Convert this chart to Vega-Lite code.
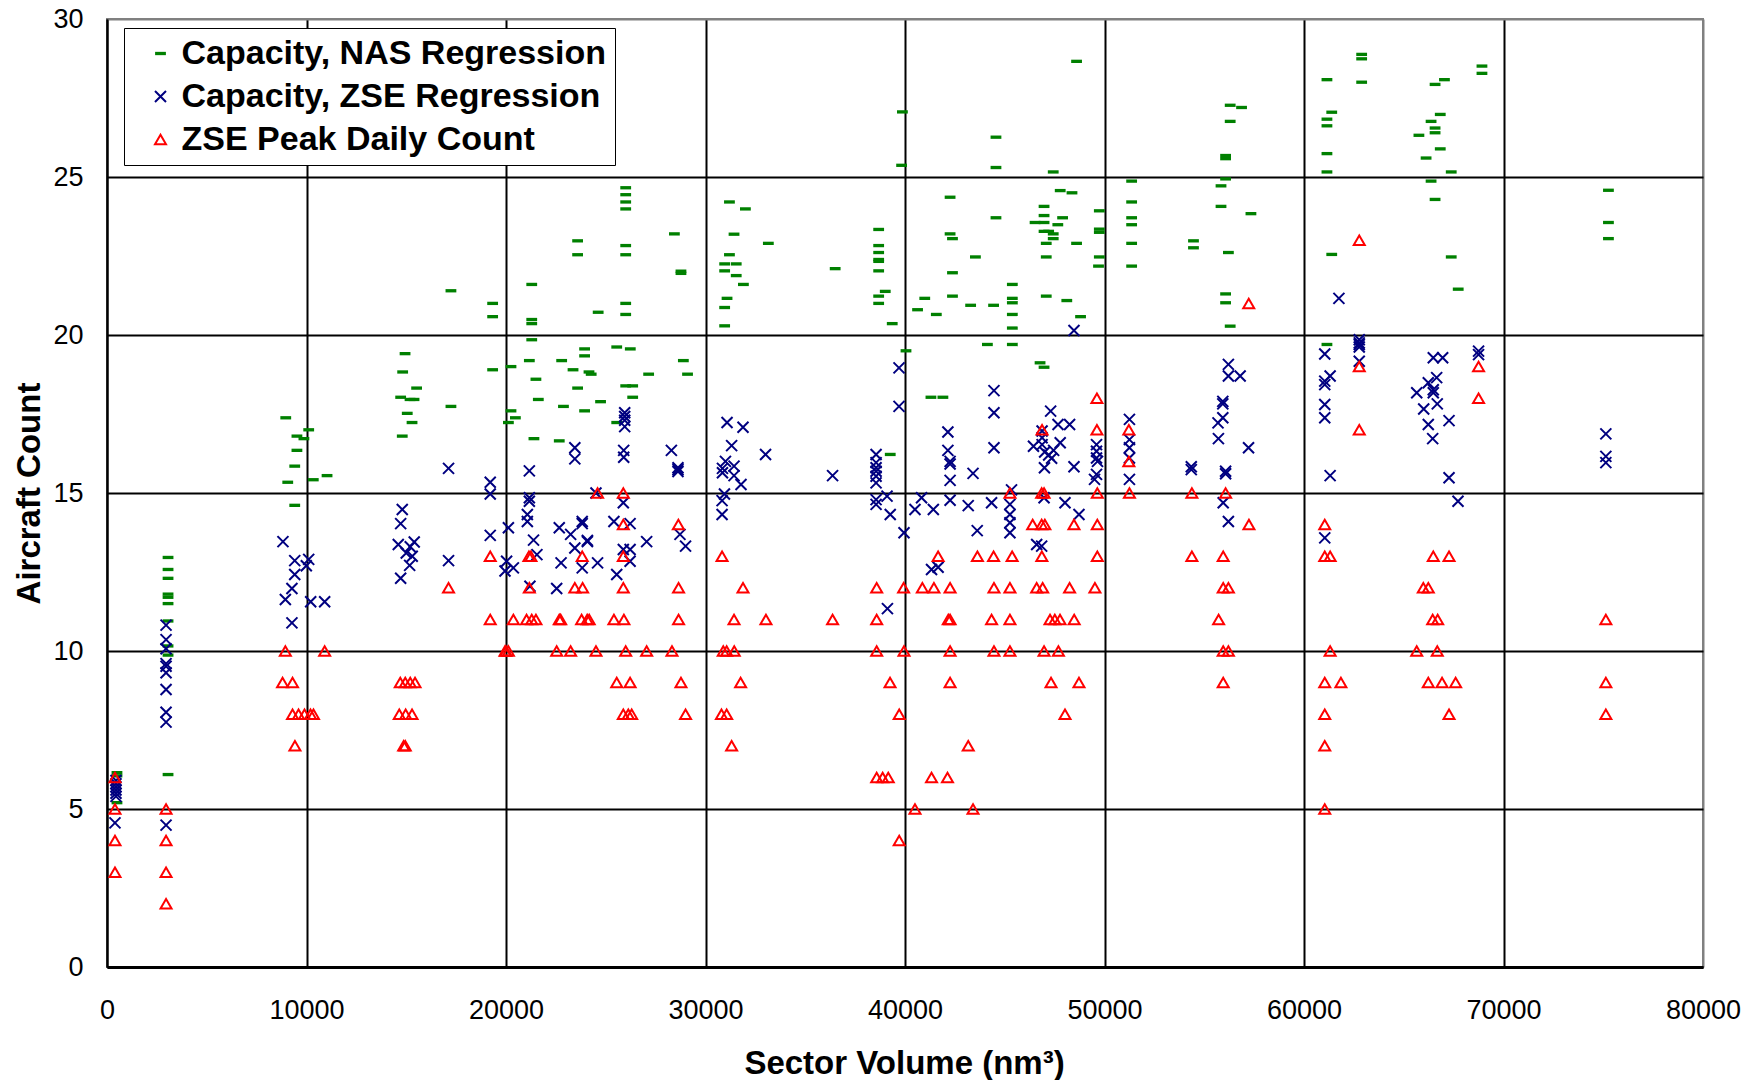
{
  "$schema": "https://vega.github.io/schema/vega-lite/v6.json",
  "autosize": {"type": "none"},
  "width": 1596,
  "height": 948,
  "padding": {"left": 107, "top": 19, "right": 61, "bottom": 113},
  "background": "white",
  "config": {
    "font": "Liberation Sans",
    "view": {"stroke": "#808080", "strokeWidth": 2}
  },
  "datasets": {
    "pts": [
      {"s":"N","x":500,"y":6.15},{"s":"N","x":500,"y":6.05},{"s":"N","x":500,"y":5.2},
      {"s":"N","x":3060,"y":12.96},{"s":"N","x":3060,"y":12.58},{"s":"N","x":3060,"y":12.3},{"s":"N","x":3060,"y":11.8},{"s":"N","x":3060,"y":11.7},{"s":"N","x":3060,"y":11.5},{"s":"N","x":3060,"y":10.95},{"s":"N","x":3060,"y":10.16},{"s":"N","x":3060,"y":9.87},{"s":"N","x":3060,"y":6.09},
      {"s":"N","x":8960,"y":17.38},{"s":"N","x":10110,"y":17.0},{"s":"N","x":9520,"y":16.8},{"s":"N","x":9870,"y":16.72},{"s":"N","x":9520,"y":16.35},{"s":"N","x":9410,"y":15.85},{"s":"N","x":9060,"y":15.34},{"s":"N","x":10340,"y":15.42},{"s":"N","x":11030,"y":15.55},{"s":"N","x":9410,"y":14.61},
      {"s":"N","x":17240,"y":21.4},{"s":"N","x":19330,"y":21.0},{"s":"N","x":19330,"y":20.58},{"s":"N","x":14940,"y":19.41},{"s":"N","x":14820,"y":18.83},{"s":"N","x":15520,"y":18.32},{"s":"N","x":14720,"y":18.03},{"s":"N","x":15190,"y":17.96},{"s":"N","x":15390,"y":17.96},{"s":"N","x":15050,"y":17.52},{"s":"N","x":15290,"y":17.23},{"s":"N","x":14800,"y":16.8},{"s":"N","x":17240,"y":17.74},{"s":"N","x":19330,"y":18.9},
      {"s":"N","x":26000,"y":24.66},{"s":"N","x":26000,"y":24.44},{"s":"N","x":26000,"y":24.21},{"s":"N","x":26000,"y":23.99},{"s":"N","x":26000,"y":22.83},{"s":"N","x":26000,"y":22.54},{"s":"N","x":26000,"y":21.0},{"s":"N","x":26000,"y":20.65},{"s":"N","x":26000,"y":18.39},
      {"s":"N","x":23590,"y":22.98},{"s":"N","x":23590,"y":22.54},{"s":"N","x":28440,"y":23.2},{"s":"N","x":28770,"y":22.02},{"s":"N","x":28770,"y":21.95},{"s":"N","x":21290,"y":21.6},{"s":"N","x":21290,"y":20.49},{"s":"N","x":21290,"y":20.36},{"s":"N","x":21290,"y":19.85},{"s":"N","x":24620,"y":20.72},
      {"s":"N","x":20250,"y":19.0},{"s":"N","x":21170,"y":19.19},{"s":"N","x":21500,"y":18.6},{"s":"N","x":20250,"y":17.6},{"s":"N","x":20470,"y":17.38},{"s":"N","x":20120,"y":17.23},{"s":"N","x":21620,"y":17.96},{"s":"N","x":21400,"y":16.72},{"s":"N","x":22670,"y":16.65},{"s":"N","x":22790,"y":19.19},{"s":"N","x":23360,"y":18.9},{"s":"N","x":23940,"y":19.56},{"s":"N","x":23940,"y":19.34},{"s":"N","x":24160,"y":18.83},{"s":"N","x":24270,"y":18.76},{"s":"N","x":23590,"y":18.32},{"s":"N","x":22880,"y":17.74},{"s":"N","x":23940,"y":17.6},{"s":"N","x":24740,"y":17.89},{"s":"N","x":25550,"y":19.62},{"s":"N","x":26230,"y":19.56},{"s":"N","x":27150,"y":18.76},{"s":"N","x":26350,"y":18.39},{"s":"N","x":26350,"y":18.03},{"s":"N","x":28890,"y":19.19},{"s":"N","x":29100,"y":18.76},{"s":"N","x":25550,"y":17.23},
      {"s":"N","x":31200,"y":24.21},{"s":"N","x":32000,"y":23.99},{"s":"N","x":31430,"y":23.19},{"s":"N","x":33150,"y":22.9},{"s":"N","x":31200,"y":22.54},{"s":"N","x":30960,"y":22.25},{"s":"N","x":31540,"y":22.25},{"s":"N","x":30960,"y":22.03},{"s":"N","x":31540,"y":21.88},{"s":"N","x":31900,"y":21.6},{"s":"N","x":31080,"y":21.16},{"s":"N","x":30960,"y":20.87},{"s":"N","x":30960,"y":20.29},{"s":"N","x":36500,"y":22.1},
      {"s":"N","x":38680,"y":23.34},{"s":"N","x":38680,"y":22.83},{"s":"N","x":38680,"y":22.61},{"s":"N","x":38680,"y":22.39},{"s":"N","x":38680,"y":22.33},{"s":"N","x":38680,"y":22.03},{"s":"N","x":38680,"y":21.23},{"s":"N","x":38680,"y":21.0},{"s":"N","x":39010,"y":21.38},{"s":"N","x":39360,"y":20.36},{"s":"N","x":39830,"y":25.37},{"s":"N","x":39870,"y":27.06},{"s":"N","x":40050,"y":19.5},{"s":"N","x":39260,"y":16.22},
      {"s":"N","x":48600,"y":28.66},{"s":"N","x":44560,"y":26.26},{"s":"N","x":44560,"y":25.3},{"s":"N","x":47430,"y":25.16},{"s":"N","x":42260,"y":24.36},{"s":"N","x":44560,"y":23.71},{"s":"N","x":47780,"y":24.57},{"s":"N","x":48370,"y":24.5},{"s":"N","x":46970,"y":24.07},{"s":"N","x":46970,"y":23.78},{"s":"N","x":46970,"y":23.56},{"s":"N","x":46520,"y":23.56},{"s":"N","x":47900,"y":23.71},{"s":"N","x":47660,"y":23.49},{"s":"N","x":46970,"y":23.28},{"s":"N","x":47200,"y":23.28},{"s":"N","x":47430,"y":23.2},{"s":"N","x":47430,"y":23.05},{"s":"N","x":47080,"y":22.9},{"s":"N","x":48600,"y":22.9},{"s":"N","x":49740,"y":23.93},{"s":"N","x":49740,"y":23.35},{"s":"N","x":49740,"y":23.25},{"s":"N","x":49740,"y":22.47},{"s":"N","x":49700,"y":22.18},{"s":"N","x":47080,"y":22.47},{"s":"N","x":42260,"y":23.2},{"s":"N","x":42380,"y":23.05},{"s":"N","x":43530,"y":22.47},{"s":"N","x":42380,"y":21.97},{"s":"N","x":42380,"y":21.23},{"s":"N","x":40990,"y":21.16},{"s":"N","x":40630,"y":20.8},{"s":"N","x":41570,"y":20.65},{"s":"N","x":43290,"y":20.94},{"s":"N","x":44440,"y":20.94},{"s":"N","x":45380,"y":21.6},{"s":"N","x":45380,"y":21.16},{"s":"N","x":45380,"y":21.02},{"s":"N","x":45380,"y":20.65},{"s":"N","x":45380,"y":20.22},{"s":"N","x":45380,"y":19.7},{"s":"N","x":47080,"y":21.23},{"s":"N","x":48110,"y":21.09},{"s":"N","x":48800,"y":20.58},{"s":"N","x":44130,"y":19.7},{"s":"N","x":46770,"y":19.12},{"s":"N","x":46970,"y":18.98},{"s":"N","x":41300,"y":18.03},{"s":"N","x":41900,"y":18.03},
      {"s":"N","x":56300,"y":27.27},{"s":"N","x":56870,"y":27.2},{"s":"N","x":56300,"y":26.76},{"s":"N","x":56070,"y":25.68},{"s":"N","x":56070,"y":25.58},{"s":"N","x":56070,"y":24.94},{"s":"N","x":55840,"y":24.72},{"s":"N","x":55840,"y":24.07},{"s":"N","x":57340,"y":23.84},{"s":"N","x":51360,"y":24.87},{"s":"N","x":51360,"y":24.21},{"s":"N","x":51360,"y":23.71},{"s":"N","x":51360,"y":23.49},{"s":"N","x":51360,"y":22.9},{"s":"N","x":51360,"y":22.18},{"s":"N","x":54460,"y":22.98},{"s":"N","x":54460,"y":22.76},{"s":"N","x":56210,"y":22.61},{"s":"N","x":56070,"y":21.3},{"s":"N","x":56070,"y":21.02},{"s":"N","x":56300,"y":20.28},
      {"s":"N","x":62890,"y":28.88},{"s":"N","x":62890,"y":28.74},{"s":"N","x":61150,"y":28.08},{"s":"N","x":62890,"y":28.0},{"s":"N","x":66570,"y":27.93},{"s":"N","x":67040,"y":28.08},{"s":"N","x":68920,"y":28.51},{"s":"N","x":68920,"y":28.28},{"s":"N","x":61390,"y":27.05},{"s":"N","x":61150,"y":26.83},{"s":"N","x":61150,"y":26.62},{"s":"N","x":66830,"y":26.98},{"s":"N","x":66370,"y":26.76},{"s":"N","x":66570,"y":26.55},{"s":"N","x":66570,"y":26.4},{"s":"N","x":65760,"y":26.32},{"s":"N","x":66830,"y":25.89},{"s":"N","x":66120,"y":25.6},{"s":"N","x":61150,"y":25.74},{"s":"N","x":61150,"y":25.16},{"s":"N","x":67380,"y":25.16},{"s":"N","x":66370,"y":24.87},{"s":"N","x":66570,"y":24.29},{"s":"N","x":61390,"y":22.55},{"s":"N","x":67380,"y":22.47},{"s":"N","x":67730,"y":21.45},{"s":"N","x":61150,"y":19.7},{"s":"N","x":75260,"y":24.58},{"s":"N","x":75260,"y":23.56},{"s":"N","x":75260,"y":23.05},

      {"s":"Z","x":450,"y":5.9},{"s":"Z","x":450,"y":5.8},{"s":"Z","x":450,"y":5.7},{"s":"Z","x":450,"y":5.6},{"s":"Z","x":450,"y":5.5},{"s":"Z","x":450,"y":5.4},{"s":"Z","x":400,"y":4.56},
      {"s":"Z","x":2960,"y":10.82},{"s":"Z","x":2960,"y":10.36},{"s":"Z","x":2960,"y":10.07},{"s":"Z","x":2960,"y":9.6},{"s":"Z","x":2960,"y":9.52},{"s":"Z","x":2960,"y":9.31},{"s":"Z","x":2960,"y":8.78},{"s":"Z","x":2960,"y":8.06},{"s":"Z","x":2960,"y":7.75},{"s":"Z","x":2960,"y":4.49},
      {"s":"Z","x":8820,"y":13.46},{"s":"Z","x":9410,"y":12.86},{"s":"Z","x":10110,"y":12.9},{"s":"Z","x":9990,"y":12.7},{"s":"Z","x":9410,"y":12.42},{"s":"Z","x":9270,"y":11.98},{"s":"Z","x":8940,"y":11.63},{"s":"Z","x":10210,"y":11.56},{"s":"Z","x":10910,"y":11.56},{"s":"Z","x":9270,"y":10.89},
      {"s":"Z","x":17120,"y":15.78},{"s":"Z","x":19210,"y":15.34},{"s":"Z","x":19210,"y":14.97},{"s":"Z","x":14800,"y":14.48},{"s":"Z","x":14720,"y":14.03},{"s":"Z","x":19210,"y":13.66},{"s":"Z","x":14600,"y":13.37},{"s":"Z","x":15400,"y":13.45},{"s":"Z","x":15200,"y":13.3},{"s":"Z","x":15000,"y":13.1},{"s":"Z","x":15300,"y":13.0},{"s":"Z","x":17120,"y":12.86},{"s":"Z","x":15170,"y":12.71},{"s":"Z","x":14720,"y":12.3},
      {"s":"Z","x":19950,"y":12.53},{"s":"Z","x":20030,"y":12.84},{"s":"Z","x":20370,"y":12.63},{"s":"Z","x":21200,"y":12.05},{"s":"Z","x":22540,"y":11.98},
      {"s":"Z","x":39700,"y":18.96},{"s":"Z","x":39700,"y":17.74},{"s":"Z","x":31080,"y":17.23},{"s":"Z","x":31880,"y":17.08},{"s":"Z","x":31310,"y":16.5},{"s":"Z","x":33010,"y":16.22},{"s":"Z","x":31000,"y":16.0},{"s":"Z","x":30850,"y":15.78},{"s":"Z","x":31430,"y":15.85},{"s":"Z","x":30850,"y":15.64},{"s":"Z","x":31430,"y":15.55},{"s":"Z","x":31780,"y":15.27},{"s":"Z","x":30950,"y":14.97},{"s":"Z","x":30830,"y":14.76},{"s":"Z","x":30830,"y":14.32},{"s":"Z","x":36370,"y":15.55},
      {"s":"Z","x":38550,"y":16.22},{"s":"Z","x":38550,"y":15.96},{"s":"Z","x":38550,"y":15.8},{"s":"Z","x":38550,"y":15.69},{"s":"Z","x":38550,"y":15.53},{"s":"Z","x":38550,"y":15.32},{"s":"Z","x":38550,"y":14.79},{"s":"Z","x":38550,"y":14.64},{"s":"Z","x":39100,"y":14.9},{"s":"Z","x":39260,"y":14.32},{"s":"Z","x":39950,"y":13.74},
      {"s":"Z","x":25950,"y":17.54},{"s":"Z","x":25950,"y":17.42},{"s":"Z","x":25950,"y":17.3},{"s":"Z","x":25950,"y":17.1},{"s":"Z","x":25900,"y":16.35},{"s":"Z","x":25900,"y":16.13},{"s":"Z","x":23450,"y":16.43},{"s":"Z","x":23450,"y":16.08},{"s":"Z","x":28290,"y":16.35},{"s":"Z","x":28620,"y":15.8},{"s":"Z","x":28620,"y":15.74},{"s":"Z","x":28620,"y":15.68},{"s":"Z","x":21170,"y":15.7},{"s":"Z","x":21170,"y":14.85},{"s":"Z","x":21170,"y":14.74},{"s":"Z","x":21070,"y":14.32},{"s":"Z","x":21070,"y":14.1},{"s":"Z","x":20120,"y":13.9},{"s":"Z","x":21380,"y":13.51},{"s":"Z","x":21550,"y":13.05},{"s":"Z","x":22670,"y":13.9},{"s":"Z","x":23240,"y":13.69},{"s":"Z","x":23820,"y":14.1},{"s":"Z","x":23820,"y":14.03},{"s":"Z","x":24080,"y":13.5},{"s":"Z","x":24080,"y":13.46},{"s":"Z","x":23450,"y":13.26},{"s":"Z","x":22760,"y":12.79},{"s":"Z","x":23820,"y":12.63},{"s":"Z","x":24590,"y":12.79},{"s":"Z","x":24510,"y":15.0},{"s":"Z","x":25410,"y":14.1},{"s":"Z","x":25880,"y":14.69},{"s":"Z","x":26220,"y":14.03},{"s":"Z","x":25880,"y":13.21},{"s":"Z","x":26220,"y":13.21},{"s":"Z","x":26220,"y":12.84},{"s":"Z","x":25550,"y":12.42},{"s":"Z","x":27050,"y":13.46},{"s":"Z","x":28720,"y":13.69},{"s":"Z","x":29000,"y":13.32},
      {"s":"Z","x":39120,"y":11.34},
      {"s":"Z","x":48470,"y":20.14},{"s":"Z","x":56210,"y":19.07},{"s":"Z","x":56210,"y":18.7},{"s":"Z","x":56800,"y":18.7},{"s":"Z","x":55930,"y":17.9},{"s":"Z","x":55930,"y":17.82},{"s":"Z","x":55930,"y":17.38},{"s":"Z","x":55690,"y":17.22},{"s":"Z","x":55710,"y":16.72},{"s":"Z","x":57220,"y":16.43},{"s":"Z","x":54350,"y":15.83},{"s":"Z","x":54350,"y":15.74},{"s":"Z","x":56070,"y":15.69},{"s":"Z","x":56070,"y":15.61},
      {"s":"Z","x":51250,"y":17.33},{"s":"Z","x":51250,"y":16.69},{"s":"Z","x":51250,"y":16.43},{"s":"Z","x":51250,"y":16.11},{"s":"Z","x":51250,"y":15.43},
      {"s":"Z","x":44460,"y":18.24},{"s":"Z","x":44460,"y":17.54},{"s":"Z","x":44460,"y":16.43},{"s":"Z","x":42150,"y":16.93},{"s":"Z","x":42150,"y":16.35},{"s":"Z","x":42260,"y":16.0},{"s":"Z","x":42260,"y":15.92},{"s":"Z","x":42260,"y":15.4},{"s":"Z","x":43410,"y":15.62},{"s":"Z","x":47300,"y":17.59},{"s":"Z","x":47670,"y":17.17},{"s":"Z","x":48250,"y":17.17},{"s":"Z","x":46870,"y":16.96},{"s":"Z","x":46870,"y":16.75},{"s":"Z","x":46870,"y":16.53},{"s":"Z","x":46440,"y":16.48},{"s":"Z","x":47780,"y":16.59},{"s":"Z","x":47000,"y":16.3},{"s":"Z","x":47200,"y":16.2},{"s":"Z","x":47350,"y":16.1},{"s":"Z","x":47450,"y":16.35},{"s":"Z","x":46990,"y":15.8},{"s":"Z","x":48470,"y":15.83},{"s":"Z","x":49600,"y":16.53},{"s":"Z","x":49600,"y":16.32},{"s":"Z","x":49600,"y":16.11},{"s":"Z","x":49650,"y":16.0},{"s":"Z","x":49600,"y":15.59},{"s":"Z","x":49500,"y":15.43},{"s":"Z","x":45340,"y":15.1},
      {"s":"Z","x":46970,"y":14.85},{"s":"Z","x":40830,"y":14.85},{"s":"Z","x":40500,"y":14.48},{"s":"Z","x":41420,"y":14.48},{"s":"Z","x":42260,"y":14.77},{"s":"Z","x":43170,"y":14.6},{"s":"Z","x":44340,"y":14.69},{"s":"Z","x":45260,"y":14.64},{"s":"Z","x":45260,"y":14.32},{"s":"Z","x":45260,"y":14.06},{"s":"Z","x":45260,"y":13.74},{"s":"Z","x":48020,"y":14.69},{"s":"Z","x":48720,"y":14.32},{"s":"Z","x":43620,"y":13.81},{"s":"Z","x":46600,"y":13.37},{"s":"Z","x":46850,"y":13.32},{"s":"Z","x":41330,"y":12.58},{"s":"Z","x":41660,"y":12.65},{"s":"Z","x":55950,"y":14.69},{"s":"Z","x":56210,"y":14.1},
      {"s":"Z","x":61750,"y":21.16},{"s":"Z","x":62770,"y":19.85},{"s":"Z","x":62770,"y":19.75},{"s":"Z","x":62770,"y":19.7},{"s":"Z","x":62770,"y":19.62},{"s":"Z","x":62770,"y":19.17},{"s":"Z","x":61040,"y":19.4},{"s":"Z","x":61310,"y":18.7},{"s":"Z","x":61040,"y":18.54},{"s":"Z","x":61040,"y":18.43},{"s":"Z","x":61040,"y":17.8},{"s":"Z","x":61040,"y":17.38},{"s":"Z","x":61310,"y":15.55},{"s":"Z","x":66480,"y":19.28},{"s":"Z","x":66950,"y":19.28},{"s":"Z","x":68750,"y":19.49},{"s":"Z","x":68750,"y":19.38},{"s":"Z","x":66650,"y":18.65},{"s":"Z","x":66230,"y":18.49},{"s":"Z","x":66480,"y":18.27},{"s":"Z","x":66480,"y":18.17},{"s":"Z","x":65650,"y":18.17},{"s":"Z","x":66680,"y":17.82},{"s":"Z","x":66000,"y":17.66},{"s":"Z","x":67270,"y":17.29},{"s":"Z","x":66230,"y":17.17},{"s":"Z","x":66450,"y":16.72},{"s":"Z","x":67270,"y":15.48},{"s":"Z","x":75130,"y":16.87},{"s":"Z","x":75130,"y":16.16},{"s":"Z","x":75130,"y":15.96},{"s":"Z","x":67720,"y":14.74},{"s":"Z","x":61040,"y":13.58},

      {"s":"P","x":400,"y":6},{"s":"P","x":400,"y":5},{"s":"P","x":400,"y":4},{"s":"P","x":400,"y":3},
      {"s":"P","x":2960,"y":5},{"s":"P","x":2960,"y":4},{"s":"P","x":2960,"y":3},{"s":"P","x":2960,"y":2},
      {"s":"P","x":8940,"y":10},{"s":"P","x":10910,"y":10},{"s":"P","x":8800,"y":9},{"s":"P","x":9300,"y":9},{"s":"P","x":9300,"y":8},{"s":"P","x":9600,"y":8},{"s":"P","x":9900,"y":8},{"s":"P","x":10200,"y":8},{"s":"P","x":10350,"y":8},{"s":"P","x":9420,"y":7},
      {"s":"P","x":14700,"y":9},{"s":"P","x":14950,"y":9},{"s":"P","x":15200,"y":9},{"s":"P","x":15440,"y":9},{"s":"P","x":14650,"y":8},{"s":"P","x":14970,"y":8},{"s":"P","x":15290,"y":8},{"s":"P","x":14870,"y":7},{"s":"P","x":14950,"y":7},
      {"s":"P","x":17120,"y":12},{"s":"P","x":19210,"y":11},{"s":"P","x":19950,"y":10},{"s":"P","x":20000,"y":10},{"s":"P","x":20120,"y":10},{"s":"P","x":19210,"y":13},
      {"s":"P","x":24590,"y":15},{"s":"P","x":25880,"y":15},{"s":"P","x":25880,"y":14},{"s":"P","x":28640,"y":14},{"s":"P","x":21150,"y":13},{"s":"P","x":21250,"y":13},{"s":"P","x":23820,"y":13},{"s":"P","x":25880,"y":13},{"s":"P","x":30830,"y":13},
      {"s":"P","x":21170,"y":12},{"s":"P","x":23450,"y":12},{"s":"P","x":23840,"y":12},{"s":"P","x":25880,"y":12},{"s":"P","x":28650,"y":12},{"s":"P","x":31880,"y":12},{"s":"P","x":38580,"y":12},{"s":"P","x":39930,"y":12},
      {"s":"P","x":20370,"y":11},{"s":"P","x":21030,"y":11},{"s":"P","x":21290,"y":11},{"s":"P","x":21500,"y":11},{"s":"P","x":22670,"y":11},{"s":"P","x":22740,"y":11},{"s":"P","x":23790,"y":11},{"s":"P","x":24070,"y":11},{"s":"P","x":24170,"y":11},{"s":"P","x":25410,"y":11},{"s":"P","x":25910,"y":11},{"s":"P","x":28650,"y":11},{"s":"P","x":31430,"y":11},{"s":"P","x":33030,"y":11},{"s":"P","x":36370,"y":11},{"s":"P","x":38580,"y":11},
      {"s":"P","x":22540,"y":10},{"s":"P","x":23240,"y":10},{"s":"P","x":24510,"y":10},{"s":"P","x":26000,"y":10},{"s":"P","x":27050,"y":10},{"s":"P","x":28320,"y":10},{"s":"P","x":30890,"y":10},{"s":"P","x":31060,"y":10},{"s":"P","x":31440,"y":10},{"s":"P","x":38580,"y":10},{"s":"P","x":39950,"y":10},
      {"s":"P","x":25550,"y":9},{"s":"P","x":26220,"y":9},{"s":"P","x":28770,"y":9},{"s":"P","x":31760,"y":9},{"s":"P","x":39250,"y":9},
      {"s":"P","x":25880,"y":8},{"s":"P","x":26130,"y":8},{"s":"P","x":26300,"y":8},{"s":"P","x":29000,"y":8},{"s":"P","x":30800,"y":8},{"s":"P","x":31060,"y":8},{"s":"P","x":39710,"y":8},
      {"s":"P","x":31310,"y":7},{"s":"P","x":38580,"y":6},{"s":"P","x":38880,"y":6},{"s":"P","x":39160,"y":6},{"s":"P","x":39710,"y":4},
      {"s":"P","x":57230,"y":21},{"s":"P","x":49620,"y":18},{"s":"P","x":49620,"y":17},{"s":"P","x":46870,"y":17},{"s":"P","x":51220,"y":17},{"s":"P","x":51220,"y":16},
      {"s":"P","x":45260,"y":15},{"s":"P","x":46850,"y":15},{"s":"P","x":46970,"y":15},{"s":"P","x":49640,"y":15},{"s":"P","x":51250,"y":15},{"s":"P","x":54380,"y":15},{"s":"P","x":56070,"y":15},
      {"s":"P","x":46400,"y":14},{"s":"P","x":46850,"y":14},{"s":"P","x":47010,"y":14},{"s":"P","x":48470,"y":14},{"s":"P","x":49640,"y":14},{"s":"P","x":57240,"y":14},
      {"s":"P","x":41660,"y":13},{"s":"P","x":43630,"y":13},{"s":"P","x":44440,"y":13},{"s":"P","x":45370,"y":13},{"s":"P","x":46860,"y":13},{"s":"P","x":49640,"y":13},{"s":"P","x":54380,"y":13},{"s":"P","x":55950,"y":13},
      {"s":"P","x":40870,"y":12},{"s":"P","x":41450,"y":12},{"s":"P","x":42260,"y":12},{"s":"P","x":44460,"y":12},{"s":"P","x":45260,"y":12},{"s":"P","x":46600,"y":12},{"s":"P","x":46900,"y":12},{"s":"P","x":48250,"y":12},{"s":"P","x":49520,"y":12},{"s":"P","x":55950,"y":12},{"s":"P","x":56210,"y":12},
      {"s":"P","x":42170,"y":11},{"s":"P","x":42260,"y":11},{"s":"P","x":44340,"y":11},{"s":"P","x":45260,"y":11},{"s":"P","x":47270,"y":11},{"s":"P","x":47510,"y":11},{"s":"P","x":47770,"y":11},{"s":"P","x":48480,"y":11},{"s":"P","x":55720,"y":11},
      {"s":"P","x":42260,"y":10},{"s":"P","x":44460,"y":10},{"s":"P","x":45260,"y":10},{"s":"P","x":46970,"y":10},{"s":"P","x":47690,"y":10},{"s":"P","x":55950,"y":10},{"s":"P","x":56210,"y":10},
      {"s":"P","x":42260,"y":9},{"s":"P","x":47320,"y":9},{"s":"P","x":48720,"y":9},{"s":"P","x":55950,"y":9},
      {"s":"P","x":48020,"y":8},{"s":"P","x":43170,"y":7},{"s":"P","x":41330,"y":6},{"s":"P","x":42130,"y":6},{"s":"P","x":40500,"y":5},{"s":"P","x":43410,"y":5},
      {"s":"P","x":62770,"y":23},{"s":"P","x":62770,"y":19},{"s":"P","x":68750,"y":19},{"s":"P","x":68750,"y":18},{"s":"P","x":62770,"y":17},
      {"s":"P","x":61040,"y":14},{"s":"P","x":61040,"y":13},{"s":"P","x":61310,"y":13},{"s":"P","x":66480,"y":13},{"s":"P","x":67270,"y":13},{"s":"P","x":65980,"y":12},{"s":"P","x":66230,"y":12},{"s":"P","x":66450,"y":11},{"s":"P","x":66700,"y":11},{"s":"P","x":75130,"y":11},{"s":"P","x":61310,"y":10},{"s":"P","x":65650,"y":10},{"s":"P","x":66680,"y":10},{"s":"P","x":61040,"y":9},{"s":"P","x":61850,"y":9},{"s":"P","x":66230,"y":9},{"s":"P","x":66920,"y":9},{"s":"P","x":67600,"y":9},{"s":"P","x":75130,"y":9},{"s":"P","x":61040,"y":8},{"s":"P","x":67270,"y":8},{"s":"P","x":75130,"y":8},{"s":"P","x":61040,"y":7},{"s":"P","x":61040,"y":5}
    ]
  },
  "data": {"name": "pts"},
  "mark": {"type": "point", "filled": false, "strokeWidth": 2, "size": 121, "opacity": 1},
  "encoding": {
    "x": {
      "field": "x", "type": "quantitative",
      "scale": {"domain": [0, 80000], "nice": false, "zero": false},
      "axis": {
        "values": [0, 10000, 20000, 30000, 40000, 50000, 60000, 70000, 80000],
        "format": "d",
        "grid": true,
        "gridColor": {"condition": {"test": "datum.value === 80000", "value": "#808080"}, "value": "#000000"},
        "gridWidth": 2,
        "gridOpacity": 1,
        "domain": true, "domainColor": "#000000", "domainWidth": 3,
        "ticks": false, "tickSize": 0,
        "labelFont": "Liberation Sans", "labelFontSize": 27, "labelColor": "#000000", "labelPadding": 30,
        "labelFlush": false, "labelOverlap": false,
        "title": "Sector Volume (nm³)",
        "titleFont": "Liberation Sans", "titleFontSize": 33, "titleFontWeight": "bold", "titleColor": "#000000",
        "titleX": 797, "titleY": 106, "titleAlign": "center", "titleBaseline": "alphabetic"
      }
    },
    "y": {
      "field": "y", "type": "quantitative",
      "scale": {"domain": [0, 30], "nice": false, "zero": false},
      "axis": {
        "values": [0, 5, 10, 15, 20, 25, 30],
        "grid": true,
        "gridColor": {"condition": {"test": "datum.value === 30", "value": "#808080"}, "value": "#000000"},
        "gridWidth": 2,
        "gridOpacity": 1,
        "domain": true, "domainColor": "#000000", "domainWidth": 2,
        "ticks": false, "tickSize": 0,
        "labelFont": "Liberation Sans", "labelFontSize": 27, "labelColor": "#000000", "labelPadding": 24,
        "labelFlush": false, "labelOverlap": false,
        "title": "Aircraft Count",
        "titleFont": "Liberation Sans", "titleFontSize": 33, "titleFontWeight": "bold", "titleColor": "#000000",
        "titleAngle": -90, "titleX": -68, "titleY": 474, "titleAlign": "center", "titleBaseline": "alphabetic"
      }
    },
    "color": {
      "field": "s", "type": "nominal",
      "scale": {"domain": ["N", "Z", "P"], "range": ["#008000", "#000080", "#FF0000"]},
      "legend": {
        "orient": "none", "legendX": 17, "legendY": 9,
        "title": null,
        "labelExpr": "datum.label === 'N' ? 'Capacity, NAS Regression' : datum.label === 'Z' ? 'Capacity, ZSE Regression' : 'ZSE Peak Daily Count'",
        "labelFont": "Liberation Sans", "labelFontSize": 34, "labelFontWeight": "bold", "labelColor": "#000000",
        "labelLimit": 600,
        "strokeColor": "#000000", "fillColor": "#ffffff",
        "padding": 8.5, "rowPadding": 9, "symbolOffset": 11, "labelOffset": 4,
        "symbolSize": 121, "symbolStrokeWidth": 2,
        "encode": {"legend": {"update": {"strokeWidth": {"value": 2}}}}
      }
    },
    "shape": {
      "field": "s", "type": "nominal",
      "scale": {"domain": ["N", "Z", "P"], "range": ["M-0.8,-0.12L0.8,-0.12L0.8,0.12L-0.8,0.12Z", "M-1,-1L1,1M-1,1L1,-1", "triangle-up"]}
    }
  }
}
